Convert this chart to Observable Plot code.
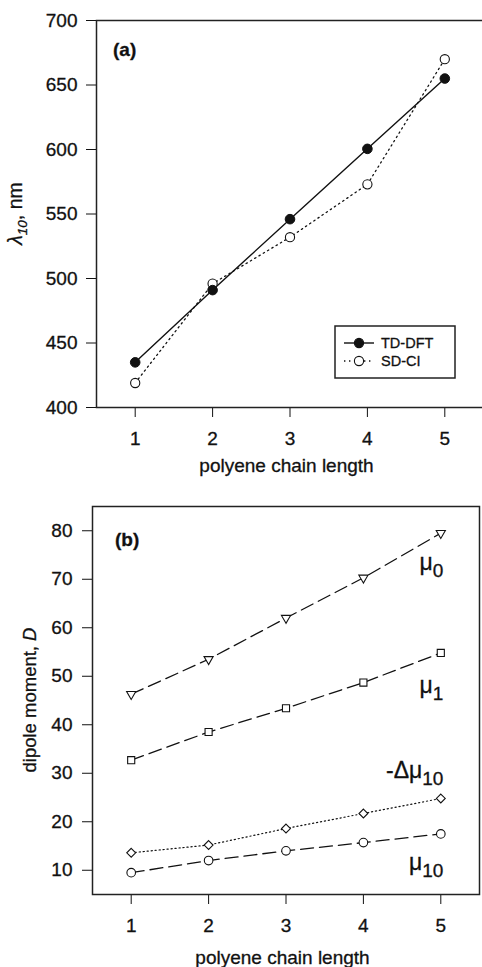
<!DOCTYPE html>
<html>
<head>
<meta charset="utf-8">
<script src="https://cdn.jsdelivr.net/npm/d3@7"></script>
<script src="https://cdn.jsdelivr.net/npm/@observablehq/plot@0.6"></script>
<style>
  html, body { margin: 0; padding: 0; background: #fff; }
  body { width: 482px; height: 967px; overflow: hidden; }
  #a, #b { display: block; width: 482px; }
  svg { display: block; overflow: hidden; }
  svg text { stroke: #111; stroke-width: 0.3px; paint-order: stroke; }
</style>
</head>
<body>
<div id="a"></div>
<div id="b"></div>
<script>
// ---- data ----
const chainLength = [1, 2, 3, 4, 5];
const tddft = [435, 491, 546, 600.5, 655];
const sdci = [419, 496, 532, 573, 670];

const mu0 = [46.3, 53.5, 62.0, 70.3, 79.5];
const mu1 = [32.7, 38.5, 43.4, 48.7, 54.8];
const negDeltaMu10 = [13.6, 15.2, 18.6, 21.7, 24.8];
const mu10 = [9.5, 12.0, 14.0, 15.7, 17.5];

const xTicks = [1, 2, 3, 4, 5];
const yTicksA = [400, 450, 500, 550, 600, 650, 700];
const yTicksB = [10, 20, 30, 40, 50, 60, 70, 80];

const FONT = "'Liberation Sans', Arial, Helvetica, sans-serif";
const INK = "#111";

// ---- panel (a) ----
const rowsA = chainLength.map((n, i) => ({n, tddft: tddft[i], sdci: sdci[i]}));

const plotA = Plot.plot({
  width: 482, height: 480,
  marginLeft: 96, marginRight: -1, marginTop: 20, marginBottom: 73,
  style: {fontFamily: FONT, fontSize: "19px", color: INK, background: "#fff"},
  x: {domain: [0.5, 5.5], ticks: xTicks, tickSize: 10, tickPadding: 14, label: null, tickFormat: d => String(d)},
  y: {domain: [400, 700], ticks: yTicksA, tickSize: 10, tickPadding: 9, label: null, tickFormat: d => String(d)},
  marks: [
    Plot.frame({stroke: "#222", strokeWidth: 1.5}),
    Plot.line(rowsA, {x: "n", y: "sdci", stroke: INK, strokeWidth: 1.3, strokeDasharray: "1.4,3.6"}),
    Plot.line(rowsA, {x: "n", y: "tddft", stroke: INK, strokeWidth: 1.4}),
    Plot.dot(rowsA, {x: "n", y: "sdci", r: 4.6, fill: "white", stroke: INK, strokeWidth: 1.1}),
    Plot.dot(rowsA, {x: "n", y: "tddft", r: 4.8, fill: INK, stroke: INK, strokeWidth: 1})
  ]
});
document.getElementById("a").appendChild(plotA);

{
  const svg = d3.select(plotA);
  const xs = plotA.scale("x"), ys = plotA.scale("y");
  const left = xs.apply(0.5), top = ys.apply(700), bottom = ys.apply(400);

  svg.append("text").attr("x", left + 17).attr("y", top + 36)
    .attr("text-anchor", "start").style("font-size", "19px").style("font-weight", "bold")
    .text("(a)");

  svg.append("text").attr("x", (left + xs.apply(5.5)) / 2 - 3).attr("y", bottom + 65)
    .attr("text-anchor", "middle").style("font-size", "19px")
    .text("polyene chain length");

  const yl = svg.append("text")
    .attr("transform", `translate(22,${(top + bottom) / 2}) rotate(-90)`)
    .attr("text-anchor", "middle").style("font-size", "19.5px");
  yl.append("tspan").style("font-style", "italic").text("λ");
  yl.append("tspan").style("font-style", "italic").style("font-size", "13.5px").attr("dy", 5).text("10");
  yl.append("tspan").attr("dy", -5).text(", nm");

  // legend
  const lg = svg.append("g");
  lg.append("rect").attr("x", 335).attr("y", 326).attr("width", 120).attr("height", 52)
    .attr("fill", "white").attr("stroke", "#222").attr("stroke-width", 1.5);
  const rows = [
    {label: "TD-DFT", dash: null, fill: INK, y: 343},
    {label: "SD-CI", dash: "1.4,3.6", fill: "white", y: 361}
  ];
  for (const r of rows) {
    lg.append("line").attr("x1", 344).attr("x2", 374).attr("y1", r.y).attr("y2", r.y)
      .attr("stroke", INK).attr("stroke-width", 1.4).attr("stroke-dasharray", r.dash);
    lg.append("circle").attr("cx", 359).attr("cy", r.y).attr("r", 4.6)
      .attr("fill", r.fill).attr("stroke", INK).attr("stroke-width", 1.1);
    lg.append("text").attr("x", 381).attr("y", r.y + 5).attr("text-anchor", "start")
      .style("font-size", "14.5px").text(r.label);
  }
}

// ---- panel (b) ----
const rowsB = chainLength.map((n, i) => ({n, mu0: mu0[i], mu1: mu1[i], dmu: negDeltaMu10[i], mu10: mu10[i]}));
const dashLong = "13,6";
const dotted = "1.2,2.8";

const plotB = Plot.plot({
  width: 482, height: 487,
  marginLeft: 92, marginRight: 3, marginTop: 26, marginBottom: 73,
  style: {fontFamily: FONT, fontSize: "19px", color: INK, background: "#fff"},
  x: {domain: [0.5, 5.5], ticks: xTicks, tickSize: 10, tickPadding: 14, label: null, tickFormat: d => String(d)},
  y: {domain: [5, 85], ticks: yTicksB, tickSize: 10, tickPadding: 10, label: null, tickFormat: d => String(d)},
  marks: [
    Plot.frame({stroke: "#222", strokeWidth: 1.5}),
    Plot.line(rowsB, {x: "n", y: "mu0", stroke: INK, strokeWidth: 1.3, strokeDasharray: dashLong}),
    Plot.line(rowsB, {x: "n", y: "mu1", stroke: INK, strokeWidth: 1.3, strokeDasharray: dashLong}),
    Plot.line(rowsB, {x: "n", y: "dmu", stroke: INK, strokeWidth: 1.2, strokeDasharray: dotted}),
    Plot.line(rowsB, {x: "n", y: "mu10", stroke: INK, strokeWidth: 1.3, strokeDasharray: dashLong}),
    Plot.dot(rowsB, {x: "n", y: "mu0", symbol: "triangle", rotate: 180, r: 3.4, fill: "white", stroke: INK, strokeWidth: 1.1}),
    Plot.dot(rowsB, {x: "n", y: "mu1", symbol: "square", r: 4, fill: "white", stroke: INK, strokeWidth: 1.1}),
    Plot.dot(rowsB, {x: "n", y: "dmu", symbol: "diamond2", r: 4, fill: "white", stroke: INK, strokeWidth: 1.1}),
    Plot.dot(rowsB, {x: "n", y: "mu10", symbol: "circle", r: 4.3, fill: "white", stroke: INK, strokeWidth: 1.1})
  ]
});
document.getElementById("b").appendChild(plotB);

{
  const svg = d3.select(plotB);
  const xs = plotB.scale("x"), ys = plotB.scale("y");
  const left = xs.apply(0.5), right = xs.apply(5.5), top = ys.apply(85), bottom = ys.apply(5);

  svg.append("text").attr("x", left + 23).attr("y", top + 40)
    .attr("text-anchor", "start").style("font-size", "19px").style("font-weight", "bold")
    .text("(b)");

  svg.append("text").attr("x", (left + right) / 2 - 3).attr("y", bottom + 70)
    .attr("text-anchor", "middle").style("font-size", "19px")
    .text("polyene chain length");

  const yl = svg.append("text")
    .attr("transform", `translate(36,${(top + bottom) / 2}) rotate(-90)`)
    .attr("text-anchor", "middle").style("font-size", "18.5px");
  yl.append("tspan").text("dipole moment, ");
  yl.append("tspan").style("font-style", "italic").text("D");

  // series labels, anchored in data space near the right end
  const lx = xs.apply(5.04);
  const seriesLabels = [
    {main: "μ", sub: "0", v: 71.8},
    {main: "μ", sub: "1", v: 46.5},
    {main: "-Δμ", sub: "10", v: 29.0},
    {main: "μ", sub: "10", v: 10.0}
  ];
  for (const s of seriesLabels) {
    const t = svg.append("text").attr("x", lx).attr("y", ys.apply(s.v))
      .attr("text-anchor", "end").style("font-size", "23px");
    t.append("tspan").text(s.main);
    t.append("tspan").attr("dy", 7).style("font-size", "19px").text(s.sub);
  }
}
</script>
</body>
</html>
